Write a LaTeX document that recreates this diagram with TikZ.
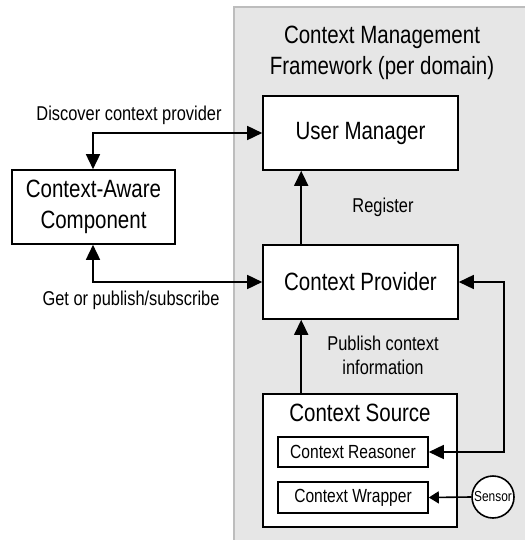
\documentclass[tikz,border=0pt]{standalone}
\usepackage{fontspec}
\setmainfont[FakeStretch=0.82]{Liberation Sans}
\usetikzlibrary{arrows.meta}
\definecolor{panelfill}{HTML}{E6E6E6}
\definecolor{panelline}{HTML}{BDBDBD}
\tikzset{
  box/.style={draw=black, fill=white, line width=1.6pt, inner sep=0pt,
    align=center, font=\fontsize{25}{30}\selectfont},
  subbox/.style={draw=black, fill=white, line width=1.6pt, inner sep=0pt,
    align=center, font=\fontsize{19}{22}\selectfont},
  lbl/.style={align=center, inner sep=0pt, font=\fontsize{20}{24}\selectfont},
  conn/.style={line width=1.6pt, {Triangle[length=15pt,width=14pt]}-{Triangle[length=15pt,width=14pt]}},
  oneway/.style={line width=1.6pt, -{Triangle[length=15pt,width=14pt]}},
  small/.style={line width=1.6pt, -{Triangle[length=10pt,width=12pt]}}
}
\begin{document}
\begin{tikzpicture}[x=1pt,y=-1pt]
\useasboundingbox (0,0) rectangle (524,540);
% framework panel
\fill[panelfill] (234,7) rectangle (530,545);
\draw[panelline, line width=1.5pt] (530,7) -- (234,7) -- (234,545);
\node[lbl, font=\fontsize{25}{31}\selectfont] (title) at (382,53) {Context Management\\Framework (per domain)};

% components
\node[box, minimum width=195pt, minimum height=74pt] (um) at (360.5,133) {User Manager};
\node[box, minimum width=195pt, minimum height=74pt] (cp) at (360.5,282) {Context Provider};
\node[box, minimum width=194pt, minimum height=133pt] (cs) at (360,460.5) {};
\node[lbl, font=\fontsize{25}{30}\selectfont] (cstitle) at (360,413) {Context Source};
\node[subbox, minimum width=150pt, minimum height=30pt] (cr) at (353,452) {Context Reasoner};
\node[subbox, minimum width=150pt, minimum height=31pt] (cw) at (353,497.5) {Context Wrapper};
\node[draw=black, fill=white, line width=1.6pt, circle, minimum size=42pt, inner sep=0pt,
  font=\fontsize{14.5}{16}\selectfont] (sensor) at (493,497) {Sensor};
\node[box, minimum width=163pt, minimum height=74pt, font=\fontsize{25}{31}\selectfont] (cac) at (93.5,207) {Context-Aware\\Component};

% connectors
\draw[conn] ([xshift=-0.5pt]cac.north) |- (um.west);
\draw[conn] ([xshift=-0.5pt]cac.south) |- (cp.west);
\draw[oneway] ([xshift=39pt]cp.north west) -- ([xshift=39pt]um.south west);
\draw[oneway] ([xshift=39pt]cs.north west) -- ([xshift=39pt]cp.south west);
\draw[conn] (cp.east) -- ++(45,0) |- (cr.east);
\draw[small] (sensor.west) -- (cw.east);

% connector labels
\node[lbl] (ldisc) at (129,115) {Discover context provider};
\node[lbl] (lget) at (131,300) {Get or publish/subscribe};
\node[lbl] (lreg) at (383,207) {Register};
\node[lbl, font=\fontsize{20}{24}\selectfont] (lpub) at (383,355) {Publish context\\information};
\end{tikzpicture}
\end{document}
